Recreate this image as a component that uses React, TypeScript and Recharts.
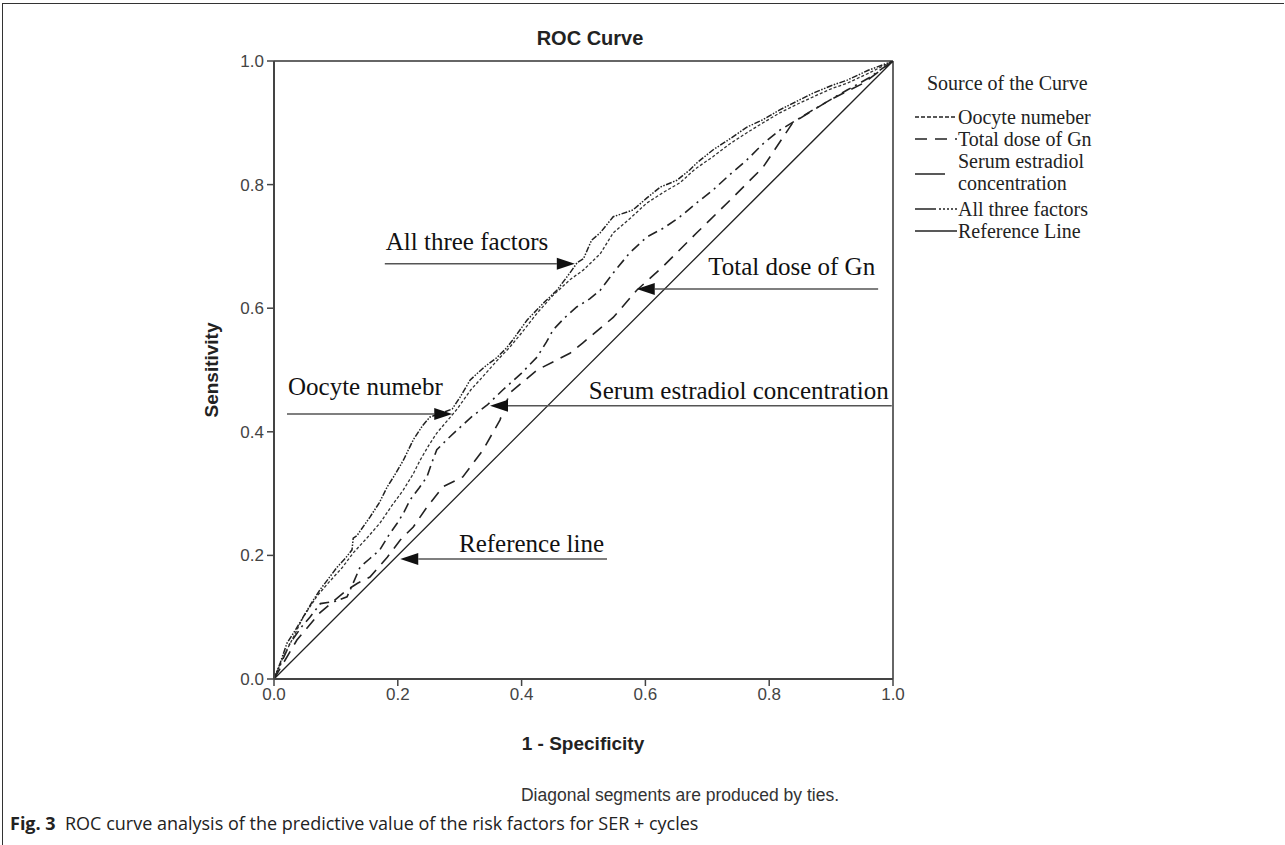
import React from "react";
import { LineChart, Line, XAxis, YAxis, ReferenceLine } from "recharts";

type Pt = [number, number];

// ROC points: [1 - specificity, sensitivity]
const allThreeFactors: Pt[] = [
  [0, 0], [0.01, 0.026], [0.021, 0.058], [0.035, 0.08], [0.047, 0.1], [0.06, 0.122],
  [0.074, 0.144], [0.09, 0.165], [0.102, 0.181], [0.115, 0.195], [0.126, 0.209],
  [0.128, 0.228], [0.134, 0.232], [0.155, 0.262], [0.17, 0.285], [0.183, 0.311],
  [0.195, 0.33], [0.209, 0.354], [0.225, 0.387], [0.24, 0.41], [0.252, 0.424],
  [0.27, 0.43], [0.288, 0.437], [0.3, 0.455], [0.317, 0.484], [0.34, 0.505],
  [0.36, 0.52], [0.375, 0.535], [0.386, 0.549], [0.409, 0.581], [0.435, 0.608],
  [0.457, 0.629], [0.478, 0.657], [0.49, 0.674], [0.5, 0.68], [0.513, 0.71],
  [0.527, 0.722], [0.548, 0.748], [0.58, 0.759], [0.602, 0.778], [0.624, 0.796],
  [0.651, 0.807], [0.672, 0.824], [0.683, 0.835], [0.709, 0.856], [0.735, 0.873],
  [0.764, 0.893], [0.79, 0.905], [0.817, 0.921], [0.845, 0.935], [0.871, 0.948],
  [0.9, 0.96], [0.926, 0.969], [0.96, 0.985], [0.995, 0.998], [1, 1],
];

const oocyteNumber: Pt[] = [
  [0, 0], [0.015, 0.036], [0.03, 0.065], [0.047, 0.1], [0.07, 0.135], [0.09, 0.158],
  [0.11, 0.18], [0.128, 0.204], [0.15, 0.228], [0.171, 0.252], [0.19, 0.28],
  [0.209, 0.306], [0.225, 0.332], [0.236, 0.354], [0.25, 0.378], [0.263, 0.398],
  [0.28, 0.418], [0.296, 0.437], [0.318, 0.468], [0.338, 0.49], [0.36, 0.515],
  [0.381, 0.537], [0.4, 0.56], [0.425, 0.592], [0.45, 0.62], [0.478, 0.646],
  [0.5, 0.662], [0.527, 0.688], [0.548, 0.722], [0.575, 0.745], [0.602, 0.77],
  [0.63, 0.788], [0.656, 0.803], [0.68, 0.825], [0.709, 0.845], [0.735, 0.865],
  [0.764, 0.884], [0.79, 0.9], [0.817, 0.916], [0.845, 0.93], [0.871, 0.942],
  [0.9, 0.955], [0.926, 0.964], [0.96, 0.98], [1, 1],
];

const serumEstradiol: Pt[] = [
  [0, 0], [0.026, 0.058], [0.045, 0.085], [0.058, 0.1], [0.075, 0.122], [0.1, 0.126],
  [0.118, 0.133], [0.13, 0.16], [0.139, 0.181], [0.155, 0.195], [0.171, 0.209],
  [0.185, 0.232], [0.199, 0.252], [0.21, 0.27], [0.22, 0.29], [0.235, 0.31],
  [0.247, 0.327], [0.255, 0.35], [0.263, 0.371], [0.28, 0.388], [0.296, 0.403],
  [0.32, 0.425], [0.344, 0.443], [0.37, 0.468], [0.4, 0.495], [0.425, 0.521],
  [0.44, 0.545], [0.451, 0.565], [0.47, 0.585], [0.489, 0.602], [0.51, 0.615],
  [0.527, 0.629], [0.548, 0.657], [0.575, 0.69], [0.602, 0.715], [0.63, 0.73],
  [0.656, 0.748], [0.68, 0.768], [0.709, 0.791], [0.735, 0.815], [0.764, 0.84],
  [0.79, 0.866], [0.817, 0.888], [0.845, 0.905], [0.871, 0.921], [0.9, 0.938],
  [0.926, 0.953], [0.96, 0.972], [1, 1],
];

const totalDoseGn: Pt[] = [
  [0, 0], [0.037, 0.063], [0.074, 0.107], [0.095, 0.125], [0.118, 0.144],
  [0.135, 0.155], [0.155, 0.165], [0.183, 0.197], [0.204, 0.225], [0.225, 0.246],
  [0.247, 0.278], [0.273, 0.311], [0.305, 0.327], [0.338, 0.371], [0.365, 0.419],
  [0.381, 0.463], [0.425, 0.5], [0.478, 0.527], [0.499, 0.544], [0.548, 0.585],
  [0.586, 0.629], [0.628, 0.667], [0.683, 0.722], [0.737, 0.775], [0.79, 0.828],
  [0.838, 0.9], [0.898, 0.937], [0.952, 0.964], [1, 1],
];

const referenceLine: Pt[] = [[0, 0], [1, 1]];

const axisTicks = [0, 0.2, 0.4, 0.6, 0.8, 1.0];

const legendOrder = [
  "Oocyte numeber",
  "Total dose of Gn",
  "Serum estradiol concentration",
  "All three factors",
  "Reference Line",
];

// arrow notes drawn on the plot (tail -> tip, in data units)
const notes = [
  { text: "All three factors", from: [0.179, 0.672], to: [0.486, 0.672], lift: 14 },
  { text: "Oocyte numebr", from: [0.021, 0.429], to: [0.288, 0.429], lift: 19 },
  { text: "Serum estradiol concentration", from: [0.998, 0.442], to: [0.349, 0.442], lift: 7 },
  { text: "Total dose of Gn", from: [0.976, 0.631], to: [0.586, 0.631], lift: 14 },
  { text: "Reference line", from: [0.538, 0.194], to: [0.204, 0.194], lift: 7 },
];

const toXY = (pts: Pt[]) => pts.map(([x, y]) => ({ x, y }));

const serif = "'Liberation Serif', 'Times New Roman', serif";
const sans = "'Liberation Sans', Arial, sans-serif";

const ArrowNote = (props: any) => {
  const { x1, y1, x2, y2, note } = props;
  const dir = x2 > x1 ? 1 : -1;
  const head = 18;
  const half = 6;
  return (
    <g>
      <line x1={x1} y1={y1} x2={x2 - dir * head} y2={y2} stroke="#555" strokeWidth={1.5} />
      <polygon
        points={`${x2},${y2} ${x2 - dir * head},${y2 - half} ${x2 - dir * head},${y2 + half}`}
        fill="#111"
      />
      <text
        x={dir > 0 ? x1 + 1 : x1 - 3}
        y={y1 - note.lift}
        textAnchor={dir > 0 ? "start" : "end"}
        fontFamily={serif}
        fontSize={25}
        fill="#111"
      >
        {note.text}
      </text>
    </g>
  );
};

// legend samples, as the SPSS legend draws them
const LegendSample = ({ name }: { name: string }) => {
  const common = { stroke: "#222", strokeWidth: 1.5 };
  if (name === "Oocyte numeber")
    return <line x1={0} y1={11} x2={42} y2={11} {...common} strokeDasharray="4 2" />;
  if (name === "Total dose of Gn")
    return <line x1={0} y1={11} x2={42} y2={11} {...common} strokeDasharray="12 8" />;
  if (name === "Serum estradiol concentration")
    return <line x1={0} y1={24} x2={30} y2={24} {...common} />;
  if (name === "All three factors")
    return (
      <g>
        <line x1={0} y1={11} x2={21} y2={11} {...common} />
        <line x1={24} y1={11} x2={42} y2={11} {...common} strokeDasharray="2 2" />
      </g>
    );
  return <line x1={0} y1={11} x2={42} y2={11} {...common} />;
};

const CurveLegend = () => (
  <div
    style={{
      position: "absolute",
      left: 915,
      top: 70,
      fontFamily: serif,
      fontSize: 20,
      color: "#222",
    }}
  >
    <div style={{ marginLeft: 12, lineHeight: "26px", marginBottom: 10 }}>Source of the Curve</div>
    {legendOrder.map((name) => {
      const twoLine = name === "Serum estradiol concentration";
      return (
        <div
          key={name}
          style={{
            display: "flex",
            alignItems: "flex-start",
            marginTop: name === "All three factors" ? 4 : 0,
          }}
        >
          <svg width={43} height={twoLine ? 44 : 22} style={{ flex: "none" }}>
            <LegendSample name={name} />
          </svg>
          <div style={{ lineHeight: "22px", whiteSpace: "nowrap" }}>
            {twoLine ? (
              <>
                Serum estradiol
                <br />
                concentration
              </>
            ) : (
              name
            )}
          </div>
        </div>
      );
    })}
  </div>
);

const tickStyle = { fontFamily: sans, fontSize: 17, fill: "#444" };

const App = () => {
  return (
    <div style={{ position: "absolute", left: 0, top: 0, width: 1285, height: 845, background: "#fff" }}>
      {/* figure frame */}
      <div
        style={{
          position: "absolute",
          left: 2,
          top: 3,
          width: 1282,
          height: 842,
          borderTop: "1.5px solid #333",
          borderLeft: "1.5px solid #333",
          boxSizing: "border-box",
        }}
      />
      <div
        style={{
          position: "absolute",
          left: 490,
          top: 27,
          width: 200,
          textAlign: "center",
          fontFamily: sans,
          fontWeight: "bold",
          fontSize: 20,
          color: "#222",
        }}
      >
        ROC Curve
      </div>
      <LineChart
        width={1285}
        height={845}
        margin={{ top: 61, right: 392, bottom: 136, left: 214 }}
        style={{ position: "absolute", left: 0, top: 0 }}
      >
        <XAxis
          type="number"
          dataKey="x"
          domain={[0, 1]}
          ticks={axisTicks}
          tickFormatter={(v: number) => v.toFixed(1)}
          tickSize={7}
          tick={tickStyle}
          axisLine={{ stroke: "#444", strokeWidth: 2 }}
          tickLine={{ stroke: "#444", strokeWidth: 1.5 }}
          height={30}
          allowDataOverflow
        />
        <YAxis
          type="number"
          domain={[0, 1]}
          ticks={axisTicks}
          tickFormatter={(v: number) => v.toFixed(1)}
          tickSize={7}
          tickMargin={3}
          tick={tickStyle}
          axisLine={{ stroke: "#444", strokeWidth: 2 }}
          tickLine={{ stroke: "#444", strokeWidth: 1.5 }}
          width={60}
          allowDataOverflow
        />
        <ReferenceLine y={1} stroke="#666" strokeWidth={2} />
        <ReferenceLine x={1} stroke="#666" strokeWidth={2} />
        <Line
          data={toXY(referenceLine)}
          dataKey="y"
          name="Reference Line"
          stroke="#222"
          strokeWidth={1.3}
          dot={false}
          isAnimationActive={false}
        />
        <Line
          data={toXY(totalDoseGn)}
          dataKey="y"
          name="Total dose of Gn"
          stroke="#222"
          strokeWidth={1.6}
          strokeDasharray="12 8"
          dot={false}
          isAnimationActive={false}
        />
        <Line
          data={toXY(serumEstradiol)}
          dataKey="y"
          name="Serum estradiol concentration"
          stroke="#222"
          strokeWidth={1.6}
          strokeDasharray="10 5 2 5"
          dot={false}
          isAnimationActive={false}
        />
        <Line
          data={toXY(oocyteNumber)}
          dataKey="y"
          name="Oocyte numeber"
          stroke="#333"
          strokeWidth={1.3}
          strokeDasharray="3 2"
          dot={false}
          isAnimationActive={false}
        />
        <Line
          data={toXY(allThreeFactors)}
          dataKey="y"
          name="All three factors"
          stroke="#222"
          strokeWidth={1.5}
          strokeDasharray="6 1.5 1.5 1.5 1.5 1.5"
          dot={false}
          isAnimationActive={false}
        />
        {notes.map((n) => (
          <ReferenceLine
            key={n.text}
            segment={[
              { x: n.from[0], y: n.from[1] },
              { x: n.to[0], y: n.to[1] },
            ]}
            shape={(p: any) => <ArrowNote {...p} note={n} />}
          />
        ))}
      </LineChart>
      <CurveLegend />
      <div
        style={{
          position: "absolute",
          left: 112,
          top: 358,
          width: 200,
          height: 24,
          lineHeight: "24px",
          textAlign: "center",
          transform: "rotate(-90deg)",
          fontFamily: sans,
          fontWeight: "bold",
          fontSize: 19,
          color: "#222",
        }}
      >
        Sensitivity
      </div>
      <div
        style={{
          position: "absolute",
          left: 433,
          top: 733,
          width: 300,
          textAlign: "center",
          fontFamily: sans,
          fontWeight: "bold",
          fontSize: 19,
          color: "#222",
        }}
      >
        1 - Specificity
      </div>
      <div
        style={{
          position: "absolute",
          left: 480,
          top: 785,
          width: 400,
          textAlign: "center",
          fontFamily: sans,
          fontSize: 17.5,
          color: "#333",
        }}
      >
        Diagonal segments are produced by ties.
      </div>
      <div
        style={{
          position: "absolute",
          left: 10,
          top: 811,
          whiteSpace: "nowrap",
          fontFamily: "'Open Sans', sans-serif",
          fontSize: 18,
          color: "#222",
        }}
      >
        <b>Fig. 3</b>&nbsp; ROC curve analysis of the predictive value of the risk factors for SER + cycles
      </div>
    </div>
  );
};

export default App;
